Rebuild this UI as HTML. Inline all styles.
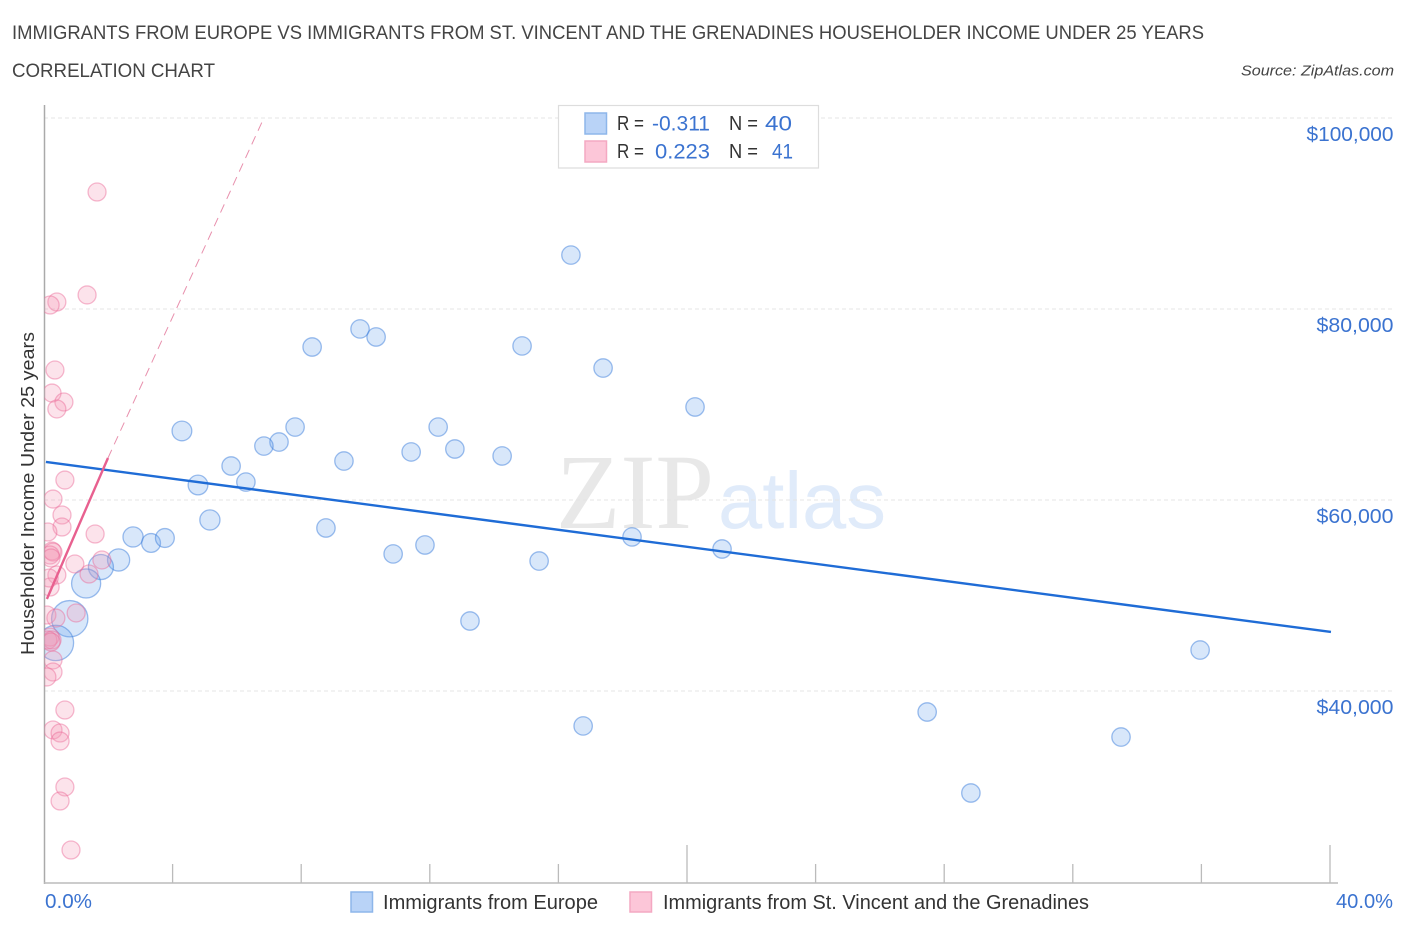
<!DOCTYPE html>
<html lang="en">
<head>
<meta charset="utf-8">
<title>Immigrants from Europe vs Immigrants from St. Vincent and the Grenadines Householder Income Under 25 Years Correlation Chart</title>
<style>
html,body{margin:0;padding:0;background:#fff;}
svg{display:block;font-family:"Liberation Sans",sans-serif;}
</style>
</head>
<body>
<svg id="chart" xmlns="http://www.w3.org/2000/svg" width="1406" height="930" viewBox="0 0 1406 930">
  <defs>
    <clipPath id="plot-clip"><rect x="44.5" y="100" width="1362" height="783"/></clipPath>
  </defs>
  <text x="12" y="39" font-size="19" fill="#444" textLength="1192" lengthAdjust="spacingAndGlyphs">IMMIGRANTS FROM EUROPE VS IMMIGRANTS FROM ST. VINCENT AND THE GRENADINES HOUSEHOLDER INCOME UNDER 25 YEARS</text>
  <text x="12" y="77" font-size="19" fill="#444" textLength="203" lengthAdjust="spacingAndGlyphs">CORRELATION CHART</text>
  <text x="1241" y="75.5" font-size="15" font-style="italic" fill="#444" textLength="153" lengthAdjust="spacingAndGlyphs">Source: ZipAtlas.com</text>

  <g>
    <text x="556" y="528" font-family="'Liberation Serif',serif" font-size="107" fill="#e8e8e8" textLength="158" lengthAdjust="spacingAndGlyphs">ZIP</text>
    <text x="718" y="528" font-size="80" fill="#e0ebfa" textLength="168" lengthAdjust="spacingAndGlyphs">atlas</text>
  </g>

  <g id="grid"></g>
  <g id="x-ticks"></g>
  <line x1="44.5" y1="105" x2="44.5" y2="884" stroke="#aaa" stroke-width="1.5"/>
  <line x1="44" y1="883" x2="1338" y2="883" stroke="#bbb" stroke-width="1.5"/>

  <g id="points" clip-path="url(#plot-clip)"></g>
  <g id="trends"></g>
  <g id="y-labels"></g>

  <text transform="translate(34,655) rotate(-90)" font-size="18.5" fill="#333" textLength="323" lengthAdjust="spacingAndGlyphs">Householder Income Under 25 years</text>
  <text x="45" y="908" font-size="20" fill="#3b73d0" textLength="47" lengthAdjust="spacingAndGlyphs">0.0%</text>
  <text x="1336" y="908" font-size="20" fill="#3b73d0" textLength="57" lengthAdjust="spacingAndGlyphs">40.0%</text>

  <g>
    <rect x="558.5" y="105.5" width="260" height="62.5" fill="#fff" stroke="#ddd" stroke-width="1.2"/>
    <rect x="585" y="113" width="21.5" height="21" fill="#b9d3f7" stroke="#8db6ea" stroke-width="1.5"/>
    <rect x="585" y="141" width="21.5" height="21" fill="#fcc6d8" stroke="#f4a8c2" stroke-width="1.5"/>
    <text x="617" y="130" font-size="20" fill="#333" textLength="27" lengthAdjust="spacingAndGlyphs">R =</text>
    <text x="652" y="130.5" font-size="21.5" fill="#3b73d0" textLength="58" lengthAdjust="spacingAndGlyphs">-0.311</text>
    <text x="729" y="130" font-size="20" fill="#333" textLength="29" lengthAdjust="spacingAndGlyphs">N =</text>
    <text x="765" y="130.5" font-size="21.5" fill="#3b73d0" textLength="27" lengthAdjust="spacingAndGlyphs">40</text>
    <text x="617" y="158" font-size="20" fill="#333" textLength="27" lengthAdjust="spacingAndGlyphs">R =</text>
    <text x="655" y="158.5" font-size="21.5" fill="#3b73d0" textLength="55" lengthAdjust="spacingAndGlyphs">0.223</text>
    <text x="729" y="158" font-size="20" fill="#333" textLength="29" lengthAdjust="spacingAndGlyphs">N =</text>
    <text x="772" y="158.5" font-size="21.5" fill="#3b73d0" textLength="21" lengthAdjust="spacingAndGlyphs">41</text>
  </g>

  <g>
    <rect x="351" y="892" width="21.5" height="20" fill="#b9d3f7" stroke="#8db6ea" stroke-width="1.5"/>
    <text x="383" y="909" font-size="20" fill="#333" textLength="215" lengthAdjust="spacingAndGlyphs">Immigrants from Europe</text>
    <rect x="630" y="892" width="21.5" height="20" fill="#fcc6d8" stroke="#f4a8c2" stroke-width="1.5"/>
    <text x="663" y="909" font-size="20" fill="#333" textLength="426" lengthAdjust="spacingAndGlyphs">Immigrants from St. Vincent and the Grenadines</text>
  </g>
</svg>

<script>
// Data: x in percent, y in thousands of dollars
const europeX = [16.39,9.83,10.33,8.34,14.87,17.39,20.25,4.29,7.81,7.31,6.84,12.26,12.78,11.42,14.25,9.33,5.82,6.28,4.79,5.16,8.77,2.77,3.33,3.76,11.85,10.86,18.29,21.09,15.40,2.32,1.77,1.31,0.80,13.25,0.37,35.96,16.77,27.47,33.50,28.83];
const europeY = [85.65,77.91,77.07,76.02,76.13,73.82,69.74,67.23,67.64,66.07,65.65,67.64,65.34,65.03,64.61,64.08,63.56,61.88,61.57,57.91,57.07,56.13,55.50,56.02,55.29,54.35,56.13,54.87,53.61,53.72,52.98,51.26,47.57,47.33,45.03,44.29,36.34,37.80,35.18,29.32];
const europeWeight = [1,1,1,1,1,1,1,1.15,1,1,1,1,1,1,1,1,1,1,1.15,1.2,1,1.2,1.05,1.05,1,1,1,1,1,1.45,1.85,2.5,3.9,1,3.7,1,1,1,1,1];
const vincentX = [1.65,1.34,0.40,0.19,0.34,0.25,0.62,0.40,0.65,0.28,0.56,0.56,1.59,0.12,0.25,0.28,0.19,0.22,0.96,1.80,0.40,1.40,0.19,0.09,0.37,1.00,0.19,0.12,0.25,0.22,0.28,0.28,0.09,0.65,0.28,0.50,0.50,0.65,0.50,0.84,0.16];
const vincentY = [92.25,81.47,80.73,80.42,73.61,71.20,70.26,69.53,62.09,60.10,58.43,57.17,56.44,56.65,54.66,54.55,54.24,53.93,53.30,53.72,52.15,52.25,50.89,47.96,47.64,48.17,45.65,45.34,45.34,45.13,43.25,41.99,41.47,38.01,35.92,35.60,34.76,29.95,28.48,23.35,51.83];
const europeTrendX = [0.06,40.03];
const europeTrendY = [63.98,46.18];
const vincentSolidX = [0.09,1.99];
const vincentSolidY = [49.63,64.40];
const vincentDashX = [1.99,6.81];
const vincentDashY = [64.40,99.79];
const yTickValues = [100,80,60,40];
const yTickLabels = ["$100,000","$80,000","$60,000","$40,000"];
const xTickValues = [4,8,12,16,20,24,28,32,36,40];
const xMajorTicks = [20,40];

const NS = "http://www.w3.org/2000/svg";
const xScale = v => 44 + v * 32.15;
const yScale = v => 118 + (100 - v) * 9.55;
const rScale = w => 9.2 * Math.sqrt(w);

function make(tag, attrs, parent) {
  const el = document.createElementNS(NS, tag);
  for (const k in attrs) el.setAttribute(k, attrs[k]);
  parent.appendChild(el);
  return el;
}

const gridG = document.getElementById("grid");
yTickValues.forEach(v => {
  const gl = make("line", {x1:44, x2:1394, y1:yScale(v), y2:yScale(v), stroke:"#e4e4e4", "stroke-width":1, "stroke-dasharray":"4 3"}, gridG);
  
  
});

const tickG = document.getElementById("x-ticks");
xTickValues.forEach(v => {
  const top = xMajorTicks.includes(v) ? 845 : 864;
  const t = make("line", {x1:xScale(v), x2:xScale(v), y1:top, y2:883, stroke:"#bbb", "stroke-width":1.3}, tickG);
  
  
});

const labelG = document.getElementById("y-labels");
yTickValues.forEach((v, i) => {
  const lab = make("text", {x:1393.5, y:yScale(v) + 23, "text-anchor":"end", "font-size":20.5, fill:"#3b73d0", textLength:10 * yTickLabels[i].length + 7, lengthAdjust:"spacingAndGlyphs"}, labelG);
  
  
  lab.textContent = yTickLabels[i];
});

const pointsG = document.getElementById("points");
europeX.forEach((x, i) => {
  const c = make("circle", {cx:xScale(x), cy:yScale(europeY[i]), r:rScale(europeWeight[i]), fill:"rgba(110,165,235,0.27)", stroke:"rgba(60,125,220,0.5)", "stroke-width":1.3}, pointsG);
  
  
});
vincentX.forEach((x, i) => {
  const c = make("circle", {cx:xScale(x), cy:yScale(vincentY[i]), r:9, fill:"rgba(245,150,180,0.27)", stroke:"rgba(235,105,150,0.45)", "stroke-width":1.3}, pointsG);
  
  
});

const trendG = document.getElementById("trends");
const dash = make("line", {x1:xScale(vincentDashX[0]), y1:yScale(vincentDashY[0]), x2:xScale(vincentDashX[1]), y2:yScale(vincentDashY[1]), stroke:"#e890ad", "stroke-width":1, "stroke-dasharray":"9 6"}, trendG);


const blueLine = make("line", {x1:xScale(europeTrendX[0]), y1:yScale(europeTrendY[0]), x2:xScale(europeTrendX[1]), y2:yScale(europeTrendY[1]), stroke:"#1f6cd6", "stroke-width":2.4}, trendG);


const pinkLine = make("line", {x1:xScale(vincentSolidX[0]), y1:yScale(vincentSolidY[0]), x2:xScale(vincentSolidX[1]), y2:yScale(vincentSolidY[1]), stroke:"#e8608f", "stroke-width":2.4}, trendG);


</script>
</body>
</html>
